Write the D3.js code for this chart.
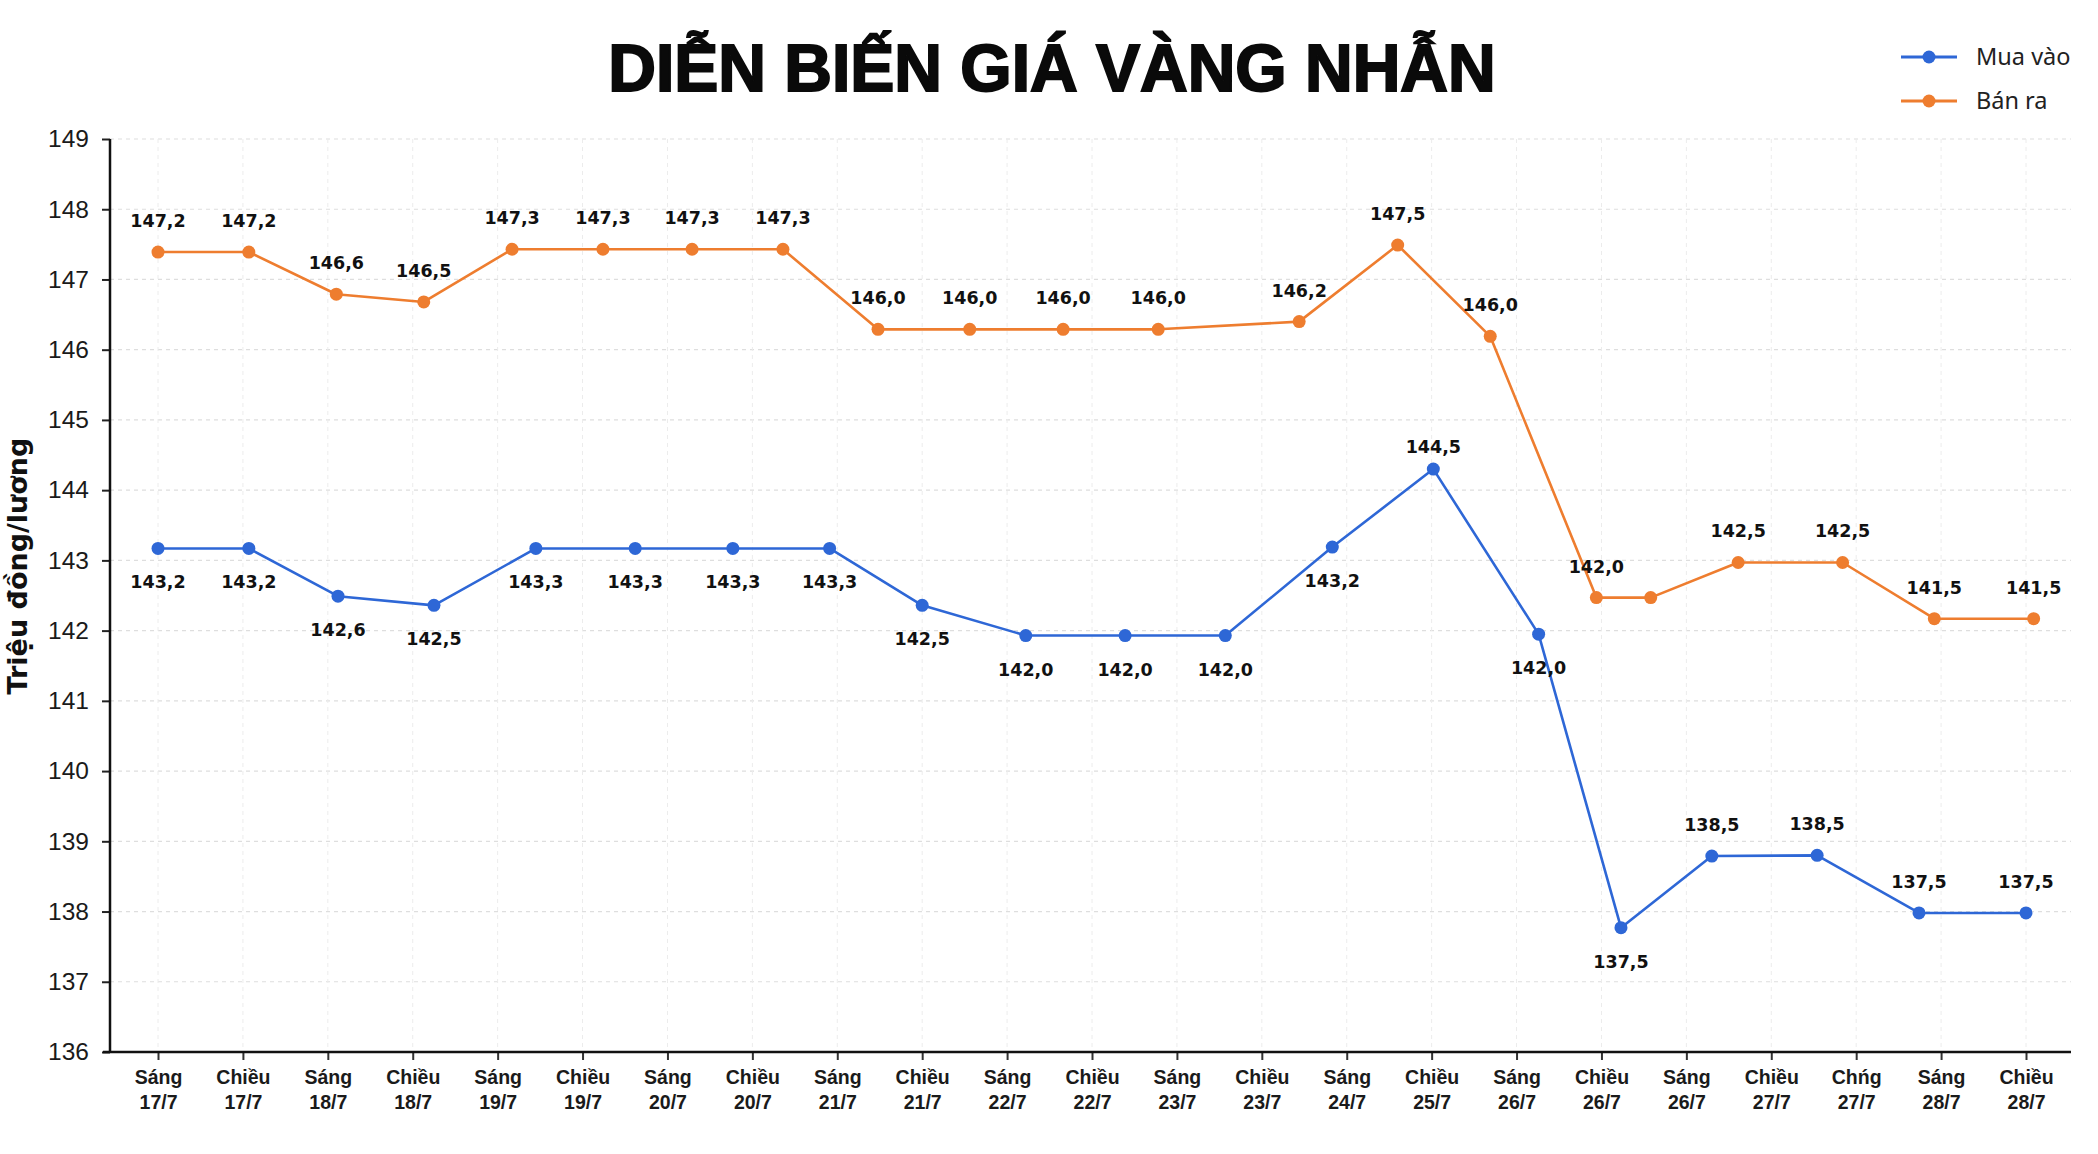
<!DOCTYPE html>
<html>
<head>
<meta charset="utf-8">
<script src="https://cdn.jsdelivr.net/npm/d3@7"></script>
<style>
  html, body { margin: 0; padding: 0; background: #ffffff; }
  svg { display: block; }
</style>
</head>
<body>
<div id="chart"></div>
<script>
// ---------- DATA ----------
const categories = [
  "Sáng 17/7","Chiều 17/7","Sáng 18/7","Chiều 18/7","Sáng 19/7","Chiều 19/7",
  "Sáng 20/7","Chiều 20/7","Sáng 21/7","Chiều 21/7","Sáng 22/7","Chiều 22/7",
  "Sáng 23/7","Chiều 23/7","Sáng 24/7","Chiều 25/7","Sáng 26/7","Chiều 26/7",
  "Sáng 26/7","Chiều 27/7","Chńg 27/7","Sáng 28/7","Chiều 28/7"
];
const yTicks = [136,137,138,139,140,141,142,143,144,145,146,147,148,149];

// "Mua vào" (buy) — position along the category axis, plotted value, printed label
const buySlot   = [0, 1.07, 2.12, 3.25, 4.45, 5.62, 6.77, 7.91, 9.00, 10.22, 11.39, 12.57, 13.83, 15.02, 16.26, 17.23, 18.30, 19.54, 20.74, 22.0];
const buyValue  = [143.17, 143.17, 142.49, 142.36, 143.17, 143.17, 143.17, 143.17, 142.36, 141.93, 141.93, 141.93, 143.19, 144.30, 141.95, 137.77, 138.79, 138.80, 137.98, 137.98];
const buyLabel  = [143.2, 143.2, 142.6, 142.5, 143.3, 143.3, 143.3, 143.3, 142.5, 142.0, 142.0, 142.0, 143.2, 144.5, 142.0, 137.5, 138.5, 138.5, 137.5, 137.5];

// "Bán ra" (sell)
const sellSlot  = [0, 1.07, 2.10, 3.13, 4.17, 5.24, 6.29, 7.36, 8.48, 9.56, 10.66, 11.78, 13.44, 14.60, 15.69, 16.94, 17.58, 18.61, 19.84, 20.92, 22.09];
const sellValue = [147.39, 147.39, 146.79, 146.68, 147.43, 147.43, 147.43, 147.43, 146.29, 146.29, 146.29, 146.29, 146.40, 147.49, 146.19, 142.47, 142.47, 142.97, 142.97, 142.17, 142.17];
const sellLabel = [147.2, 147.2, 146.6, 146.5, 147.3, 147.3, 147.3, 147.3, 146.0, 146.0, 146.0, 146.0, 146.2, 147.5, 146.0, 142.0, null, 142.5, 142.5, 141.5, 141.5];

const seriesNames = ["Mua vào", "Bán ra"];
const titleText = "DIỄN BIẾN GIÁ VÀNG NHẪN";
const yTitle = "Triệu đồng/lương";

// ---------- LAYOUT ----------
const W = 2098, H = 1154;
const plot = { left: 110, right: 2071, top: 139, bottom: 1052 };
const colBuy = "#2e67d6", colSell = "#ee7d2f";

const svg = d3.select("#chart").append("svg").attr("width", W).attr("height", H);
svg.append("rect").attr("width", W).attr("height", H).attr("fill", "#ffffff");

const x = d3.scaleLinear().domain([0, categories.length - 1]).range([158, 2026]);
const y = d3.scaleLinear().domain([136, 149]).range([plot.bottom, plot.top]);

// grid
const grid = svg.append("g");
grid.selectAll("line.h").data(yTicks.slice(1)).join("line")
  .attr("x1", plot.left).attr("x2", plot.right)
  .attr("y1", d => y(d)).attr("y2", d => y(d))
  .attr("stroke", "#dedede").attr("stroke-width", 1.2).attr("stroke-dasharray", "4,4");
grid.selectAll("line.v").data(d3.range(categories.length)).join("line")
  .attr("x1", d => x(d)).attr("x2", d => x(d))
  .attr("y1", plot.top).attr("y2", plot.bottom)
  .attr("stroke", "#ececec").attr("stroke-width", 1).attr("stroke-dasharray", "4,4");

// y axis
const yAxis = svg.append("g").attr("transform", `translate(${plot.left},0)`)
  .call(d3.axisLeft(y).tickValues(yTicks).tickFormat(d3.format("d")).tickSize(8).tickPadding(13));
yAxis.select(".domain").remove();
yAxis.selectAll(".tick line").attr("stroke", "#222").attr("stroke-width", 2);
yAxis.selectAll(".tick text")
  .attr("font-family", "'Liberation Sans', Arial, sans-serif")
  .attr("font-size", 24.5).attr("fill", "#1a1a1a");
svg.append("line").attr("x1", plot.left).attr("x2", plot.left)
  .attr("y1", plot.top).attr("y2", plot.bottom + 1)
  .attr("stroke", "#111").attr("stroke-width", 2.5);

// x axis
const xAxis = svg.append("g").attr("transform", `translate(0,${plot.bottom})`)
  .call(d3.axisBottom(x).tickValues(d3.range(categories.length)).tickSize(8).tickFormat(""));
xAxis.select(".domain").remove();
xAxis.selectAll(".tick line").attr("stroke", "#333").attr("stroke-width", 2);
xAxis.selectAll(".tick").each(function(d) {
  const parts = categories[d].split(" ");
  const t = d3.select(this).append("text")
    .attr("text-anchor", "middle")
    .attr("font-family", "'Liberation Sans', Arial, sans-serif")
    .attr("font-weight", "bold").attr("font-size", 19.5).attr("fill", "#1a1a1a");
  t.append("tspan").attr("x", 0).attr("y", 32).text(parts[0]);
  t.append("tspan").attr("x", 0).attr("y", 57).text(parts[1]);
});
svg.append("line").attr("x1", 103).attr("x2", plot.right)
  .attr("y1", plot.bottom).attr("y2", plot.bottom)
  .attr("stroke", "#111").attr("stroke-width", 2.5);

// y-axis title
svg.append("text")
  .attr("transform", `translate(27,566) rotate(-90)`)
  .attr("text-anchor", "middle")
  .attr("font-family", "'DejaVu Sans', sans-serif")
  .attr("font-weight", "bold").attr("font-size", 27).attr("fill", "#111")
  .text(yTitle);

// title
svg.append("text")
  .attr("x", 1052).attr("y", 91).attr("text-anchor", "middle")
  .attr("font-family", "'Liberation Sans', Arial, sans-serif")
  .attr("font-weight", "bold").attr("font-size", 66).attr("fill", "#0a0a0a")
  .attr("stroke", "#0a0a0a").attr("stroke-width", 2)
  .text(titleText);

// series
const fmt = v => d3.format(".1f")(v).replace(".", ",");
const buyData = buySlot.map((s, i) => ({ s, v: buyValue[i], l: buyLabel[i], i }));
const sellData = sellSlot.map((s, i) => ({ s, v: sellValue[i], l: sellLabel[i], i }));
const line = d3.line().x(d => x(d.s)).y(d => y(d.v));

function drawSeries(data, color) {
  svg.append("path").datum(data).attr("d", line)
    .attr("fill", "none").attr("stroke", color).attr("stroke-width", 2.6)
    .attr("stroke-linejoin", "round");
  svg.append("g").selectAll("circle").data(data).join("circle")
    .attr("cx", d => x(d.s)).attr("cy", d => y(d.v)).attr("r", 6.5)
    .attr("fill", color);
}
drawSeries(sellData, colSell);
drawSeries(buyData, colBuy);

function drawLabels(data, placeFn) {
  svg.append("g").selectAll("text").data(data.filter(d => d.l != null)).join("text")
    .attr("x", d => x(d.s))
    .attr("y", d => y(d.v) + placeFn(d))
    .attr("text-anchor", "middle")
    .attr("font-family", "'DejaVu Sans', sans-serif").attr("font-weight", "bold")
    .attr("font-size", 17.5).attr("fill", "#111")
    .text(d => fmt(d.l));
}
drawLabels(sellData, d => -25);
const buyAbove = new Set([13, 16, 17, 18, 19]);
drawLabels(buyData, d => d.i === 13 ? -16 : (buyAbove.has(d.i) ? -25 : 40));

// legend
const legend = svg.append("g");
[[seriesNames[0], colBuy, 57], [seriesNames[1], colSell, 101]].forEach(([name, c, ly]) => {
  legend.append("line").attr("x1", 1901).attr("x2", 1957).attr("y1", ly).attr("y2", ly)
    .attr("stroke", c).attr("stroke-width", 3);
  legend.append("circle").attr("cx", 1929).attr("cy", ly).attr("r", 6.5).attr("fill", c);
  legend.append("text").attr("x", 1976).attr("y", ly + 8)
    .attr("font-family", "'Noto Sans', sans-serif").attr("font-size", 23.5).attr("fill", "#222")
    .text(name);
});
</script>
</body>
</html>
